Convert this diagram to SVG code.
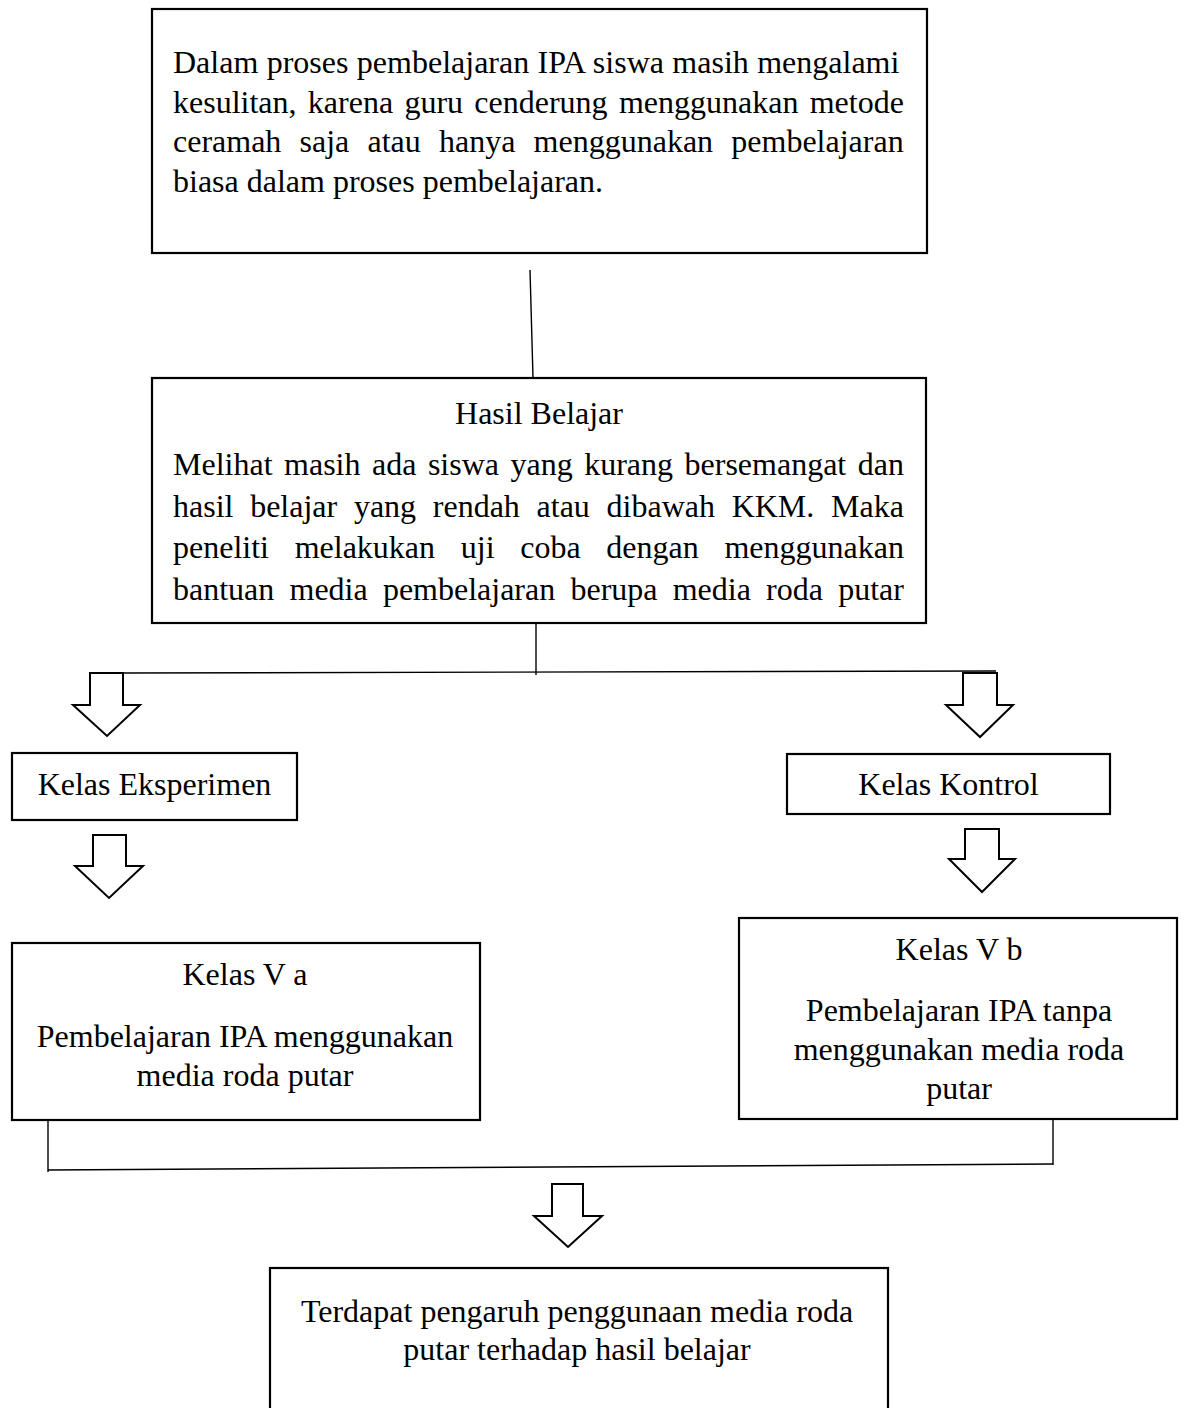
<svg xmlns="http://www.w3.org/2000/svg" width="1186" height="1408" viewBox="0 0 1186 1408">
<style>
.box{fill:#fff;stroke:#000;stroke-width:2.2}
.t{font-family:"Liberation Serif","Times New Roman",serif;font-size:32px;fill:#000}
.c{text-anchor:middle}
.ln{stroke:#000;stroke-width:1.4;fill:none}
.arr{fill:#fff;stroke:#000;stroke-width:2;stroke-linejoin:miter}
</style>
<rect width="1186" height="1408" fill="#fff"/>
<g id="connectors">
<line class="ln" x1="530" y1="270" x2="533" y2="378"/>
<line class="ln" x1="536" y1="623" x2="536" y2="675"/>
<line class="ln" x1="123" y1="673" x2="996" y2="671"/>
<line class="ln" x1="48" y1="1120" x2="48" y2="1172"/>
<line class="ln" x1="1053" y1="1112" x2="1053" y2="1165"/>
<line class="ln" x1="48" y1="1170" x2="1053" y2="1164"/>
<polygon class="arr" points="90,673 123,673 123,705 140,705 107,736 73,705 90,705"/>
<polygon class="arr" points="963,673 997,673 997,705 1013,705 980,737 946,705 963,705"/>
<polygon class="arr" points="93,835 126,835 126,866 143,866 109,898 75,866 93,866"/>
<polygon class="arr" points="965,829 999,829 999,859 1015,859 982,892 949,859 965,859"/>
<polygon class="arr" points="552,1184 583,1184 583,1216 602,1216 568,1247 534,1216 552,1216"/>
</g>
<g id="node-masalah">
<rect class="box" x="152" y="9" width="775" height="244"/>
<text class="t" x="173" y="73" word-spacing="0.4">Dalam proses pembelajaran IPA siswa masih mengalami</text>
<text class="t" x="173" y="112.5" word-spacing="3.3">kesulitan, karena guru cenderung menggunakan metode</text>
<text class="t" x="173" y="152" word-spacing="10.2">ceramah saja atau hanya menggunakan pembelajaran</text>
<text class="t" x="173" y="191.5">biasa dalam proses pembelajaran.</text>
</g>
<g id="node-hasil">
<rect class="box" x="152" y="378" width="774" height="245"/>
<text class="t c" x="539" y="424">Hasil Belajar</text>
<text class="t" x="173" y="475" word-spacing="3.5">Melihat masih ada siswa yang kurang bersemangat dan</text>
<text class="t" x="173" y="516.5" word-spacing="8.7">hasil belajar yang rendah atau dibawah KKM. Maka</text>
<text class="t" x="173" y="558" word-spacing="17.7">peneliti melakukan uji coba dengan menggunakan</text>
<text class="t" x="173" y="599.5" word-spacing="7.2">bantuan media pembelajaran berupa media roda putar</text>
</g>
<g id="node-eksperimen">
<rect class="box" x="12" y="753" width="285" height="67"/>
<text class="t c" x="154.5" y="795">Kelas Eksperimen</text>
</g>
<g id="node-kontrol">
<rect class="box" x="787" y="754" width="323" height="60"/>
<text class="t c" x="948.5" y="795">Kelas Kontrol</text>
</g>
<g id="node-va">
<rect class="box" x="12" y="943" width="468" height="177"/>
<text class="t c" x="245" y="985">Kelas V a</text>
<text class="t c" x="245" y="1047">Pembelajaran IPA menggunakan</text>
<text class="t c" x="245" y="1085.5">media roda putar</text>
</g>
<g id="node-vb">
<rect class="box" x="739" y="918" width="438" height="201"/>
<text class="t c" x="959" y="960">Kelas V b</text>
<text class="t c" x="959" y="1021">Pembelajaran IPA tanpa</text>
<text class="t c" x="959" y="1060">menggunakan media roda</text>
<text class="t c" x="959" y="1099">putar</text>
</g>
<g id="node-kesimpulan">
<rect class="box" x="270" y="1268" width="618" height="160"/>
<text class="t c" x="577" y="1321.5">Terdapat pengaruh penggunaan media roda</text>
<text class="t c" x="577" y="1360">putar terhadap hasil belajar</text>
</g>
</svg>
